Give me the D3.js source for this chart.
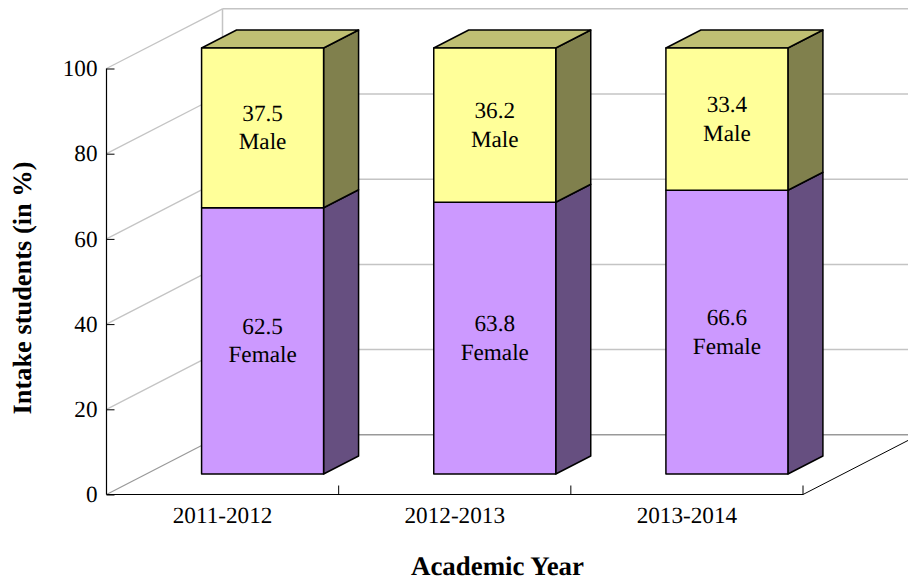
<!DOCTYPE html>
<html><head><meta charset="utf-8">
<script src="https://cdn.jsdelivr.net/npm/d3@7"></script>
<style>html,body{margin:0;padding:0;background:#fff}svg{display:block}text{font-family:"Liberation Serif",serif;fill:#000;text-rendering:geometricPrecision}</style>
</head><body><svg id="c" width="908" height="580"></svg>
<script>
const categories=["2011-2012","2012-2013","2013-2014"];
const femaleValues=[62.5,63.8,66.6];
const maleValues=[37.5,36.2,33.4];
const seriesNames=["Female","Male"];
const yTicks=[0,20,40,60,80,100];
const xTitle="Academic Year", yTitle="Intake students (in %)";

const svg=d3.select("#c");
const x0=106.5,x1=803,y0=494.5,y1=68.5;
const depthX=116,depthY=-59.7;
const barDepthStart=40,barDepthY=-20.5,barDX=35,barDY=-18;
const x=d3.scaleBand().domain(categories).range([x0,x1]).padding(0);
const y=d3.scaleLinear().domain([0,100]).range([y0,y1]);
const bw=122;
const fs=23.2;

const walls=svg.append("g");
yTicks.forEach(t=>{
  const c=t===0?"#999":"#c4c4c4";
  walls.append("line").attr("x1",x0).attr("y1",y(t)).attr("x2",x0+depthX).attr("y2",y(t)+depthY).attr("stroke",c).attr("stroke-width",t===0?1.2:1.3);
  walls.append("line").attr("x1",x0+depthX).attr("y1",y(t)+depthY).attr("x2",908).attr("y2",y(t)+depthY).attr("stroke",c).attr("stroke-width",1.5);
});
walls.append("line").attr("x1",x0+depthX).attr("y1",y(100)+depthY).attr("x2",x0+depthX).attr("y2",y(0)+depthY).attr("stroke","#c4c4c4").attr("stroke-width",1.5);
walls.append("line").attr("x1",x1).attr("y1",y0).attr("x2",x1+depthX).attr("y2",y0+depthY).attr("stroke","#000").attr("stroke-width",1);

const ax=svg.append("g").attr("transform",`translate(${x0},0)`)
 .call(d3.axisRight(y).tickValues(yTicks).tickSize(8).tickFormat(""));
ax.select(".domain").attr("stroke-width",1.2).attr("d",`M0,${y1}V${y0}`);
ax.selectAll("line").attr("stroke","#000").attr("stroke-width",1);
yTicks.forEach(t=>svg.append("text").attr("x",97.5).attr("y",y(t)).attr("dy","0.33em").attr("text-anchor","end").attr("font-size",fs).text(t));

const bx=svg.append("g").attr("transform",`translate(0,${y0})`);
bx.append("line").attr("x1",x0).attr("x2",x1).attr("stroke","#000").attr("stroke-width",1.2);
categories.forEach(c=>{
  const r=x(c)+x.bandwidth();
  bx.append("line").attr("x1",r).attr("x2",r).attr("y1",0).attr("y2",-9).attr("stroke","#000").attr("stroke-width",1);
  svg.append("text").attr("x",x(c)+x.bandwidth()/2).attr("y",523).attr("text-anchor","middle").attr("font-size",fs).text(c);
});

const fill={Female:["#cc99ff","#bcbc78","#664f80"],Male:["#ffff99","#bfbf73","#80804d"]};
const bars=svg.append("g");
categories.forEach((c,i)=>{
  const cx=x(c)+x.bandwidth()/2+barDepthStart;
  const l=cx-bw/2,r=cx+bw/2;
  let acc=0;
  seriesNames.forEach(s=>{
    const v=(s==="Female"?femaleValues:maleValues)[i];
    const b=y(acc)+barDepthY,t=y(acc+v)+barDepthY;
    const f=fill[s];
    const g=bars.append("g").attr("stroke","#000").attr("stroke-width",1.5).attr("stroke-linejoin","round");
    g.append("path").attr("fill",f[2]).attr("d",d3.line()([[r,b],[r+barDX,b+barDY],[r+barDX,t+barDY],[r,t]])+"Z");
    if(s==="Male") g.append("path").attr("fill",f[1]).attr("d",d3.line()([[l,t],[l+barDX,t+barDY],[r+barDX,t+barDY],[r,t]])+"Z");
    g.append("rect").attr("x",l).attr("y",t).attr("width",bw).attr("height",b-t).attr("fill",f[0]);
    const m=(b+t)/2;
    bars.append("text").attr("x",cx).attr("y",m-7).attr("text-anchor","middle").attr("font-size",fs).text(v);
    bars.append("text").attr("x",cx).attr("y",m+21.5).attr("text-anchor","middle").attr("font-size",fs).text(s);
    acc+=v;
  });
});

svg.append("text").attr("x",497.5).attr("y",574.5).attr("text-anchor","middle").attr("font-size",26.9).attr("font-weight","bold").text(xTitle);
svg.append("text").attr("transform","translate(31,288) rotate(-90)").attr("text-anchor","middle").attr("font-size",26.4).attr("font-weight","bold").text(yTitle);
</script></body></html>
